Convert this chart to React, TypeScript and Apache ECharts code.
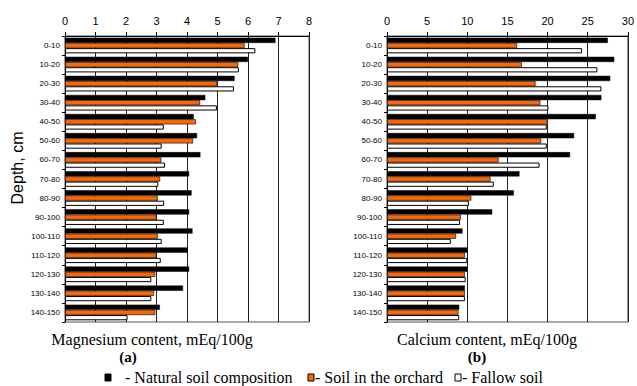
import React, { useEffect, useRef } from "react";
import * as echarts from "echarts";

const categories = [
  "0-10", "10-20", "20-30", "30-40", "40-50", "50-60", "60-70", "70-80",
  "80-90", "90-100", "100-110", "110-120", "120-130", "130-140", "140-150",
];
const mgNatural = [6.9, 6.0, 5.56, 4.6, 4.22, 4.33, 4.44, 4.07, 4.15, 4.07, 4.18, 4.02, 4.07, 3.87, 3.11];
const mgOrchard = [5.89, 5.68, 4.98, 4.43, 4.29, 4.2, 3.16, 3.12, 3.04, 3.0, 3.04, 3.0, 2.96, 2.92, 2.96];
const mgFallow = [6.24, 5.7, 5.54, 4.98, 3.24, 3.17, 3.28, 3.06, 3.25, 3.24, 3.17, 3.14, 2.83, 2.83, 2.05];
const caNatural = [27.5, 28.3, 27.8, 26.7, 26.0, 23.3, 22.8, 16.5, 15.8, 13.1, 9.4, 10.0, 10.0, 9.7, 9.0];
const caOrchard = [16.2, 16.8, 18.5, 19.1, 20.0, 19.2, 13.9, 12.9, 10.5, 9.2, 8.6, 9.7, 9.7, 9.7, 8.9];
const caFallow = [24.3, 26.2, 26.7, 20.1, 19.9, 19.9, 19.0, 13.3, 10.2, 9.1, 7.95, 10.0, 9.8, 9.7, 9.0];

const seriesNames = ["- Natural soil composition", "- Soil in the orchard", "- Fallow soil"];
const xTitles = ["Magnesium content, mEq/100g", "Calcium content, mEq/100g"];
const panelLabels = ["(a)", "(b)"];
const yTitle = "Depth, cm";

const SANS = "'Liberation Sans', Arial, sans-serif";
const SERIF = "'Liberation Serif', 'Times New Roman', serif";

export default function App() {
  const ref = useRef<HTMLDivElement>(null);
  useEffect(() => {
    document.body.style.margin = "0";
    const chart = echarts.init(ref.current!, null, { renderer: "svg" });
    const xAxisBase = (gridIndex: number, max: number, interval: number) => ({
      type: "value" as const,
      gridIndex,
      position: "top" as const,
      min: 0,
      max,
      interval,
      axisLine: { show: true, lineStyle: { color: "#000", width: 1 } },
      axisTick: { show: true, length: 4, lineStyle: { color: "#000" } },
      axisLabel: { color: "#000", fontSize: 11, fontFamily: SANS, margin: 10 },
      splitLine: { show: true, lineStyle: { color: "#222222", width: 1, type: "solid" as const } },
    });
    const yAxisBase = (gridIndex: number) => ({
      type: "category" as const,
      gridIndex,
      data: categories,
      inverse: true,
      axisLine: { show: true, lineStyle: { color: "#000", width: 1 } },
      axisTick: { show: true, length: 3, lineStyle: { color: "#000" } },
      axisLabel: { color: "#000", fontSize: 8, fontFamily: SANS, margin: 5 },
      splitLine: { show: false },
    });
    const styles = [
      { color: "#000000", borderColor: "#000000", borderWidth: 0.5 },
      { color: "#ff6600", borderColor: "#1a1a1a", borderWidth: 0.7 },
      { color: "#ffffff", borderColor: "#000000", borderWidth: 1 },
    ];
    const mk = (name: string, data: number[], idx: number, s: number) => ({
      type: "bar" as const,
      name,
      data,
      xAxisIndex: idx,
      yAxisIndex: idx,
      barCategoryGap: "18%",
      barGap: "0%",
      itemStyle: styles[s],
    });
    chart.setOption({
      animation: false,
      backgroundColor: "#fff",
      grid: [
        { left: 65, top: 36, width: 244, height: 286, show: true, borderColor: "#555", borderWidth: 1, backgroundColor: "transparent" },
        { left: 387, top: 36, width: 244, height: 286, show: true, borderColor: "#555", borderWidth: 1, backgroundColor: "transparent" },
      ],
      xAxis: [xAxisBase(0, 8, 1), xAxisBase(1, 30, 5)],
      yAxis: [yAxisBase(0), yAxisBase(1)],
      series: [
        mk(seriesNames[0], mgNatural, 0, 0),
        mk(seriesNames[1], mgOrchard, 0, 1),
        mk(seriesNames[2], mgFallow, 0, 2),
        mk(seriesNames[0], caNatural, 1, 0),
        mk(seriesNames[1], caOrchard, 1, 1),
        mk(seriesNames[2], caFallow, 1, 2),
      ],
      graphic: [
        {
          type: "text",
          x: 17,
          y: 168,
          rotation: Math.PI / 2,
          style: { text: yTitle, fill: "#000", font: `16px ${SANS}`, align: "center", verticalAlign: "middle" },
        },
        {
          type: "text", x: 152, y: 339,
          style: { text: xTitles[0], fill: "#000", font: `16px ${SERIF}`, align: "center", verticalAlign: "middle" },
        },
        {
          type: "text", x: 487, y: 339,
          style: { text: xTitles[1], fill: "#000", font: `16px ${SERIF}`, align: "center", verticalAlign: "middle" },
        },
        {
          type: "text", x: 128, y: 357,
          style: { text: panelLabels[0], fill: "#000", font: `bold 15px ${SERIF}`, align: "center", verticalAlign: "middle" },
        },
        {
          type: "text", x: 477, y: 357,
          style: { text: panelLabels[1], fill: "#000", font: `bold 15px ${SERIF}`, align: "center", verticalAlign: "middle" },
        },
        { type: "rect", shape: { x: 105, y: 374, width: 6, height: 7 }, style: { fill: "#000", stroke: "#000" } },
        {
          type: "text", x: 125, y: 377,
          style: { text: seriesNames[0], fill: "#000", font: `16px ${SERIF}`, align: "left", verticalAlign: "middle" },
        },
        { type: "rect", shape: { x: 308, y: 374, width: 6, height: 7 }, style: { fill: "#ff6600", stroke: "#000", lineWidth: 1 } },
        {
          type: "text", x: 315, y: 377,
          style: { text: seriesNames[1], fill: "#000", font: `16px ${SERIF}`, align: "left", verticalAlign: "middle" },
        },
        { type: "rect", shape: { x: 455, y: 374, width: 6, height: 7 }, style: { fill: "#fff", stroke: "#000", lineWidth: 1 } },
        {
          type: "text", x: 462, y: 377,
          style: { text: seriesNames[2], fill: "#000", font: `16px ${SERIF}`, align: "left", verticalAlign: "middle" },
        },
      ],
    });
    return () => chart.dispose();
  }, []);
  return <div ref={ref} style={{ width: 637, height: 386 }} />;
}
